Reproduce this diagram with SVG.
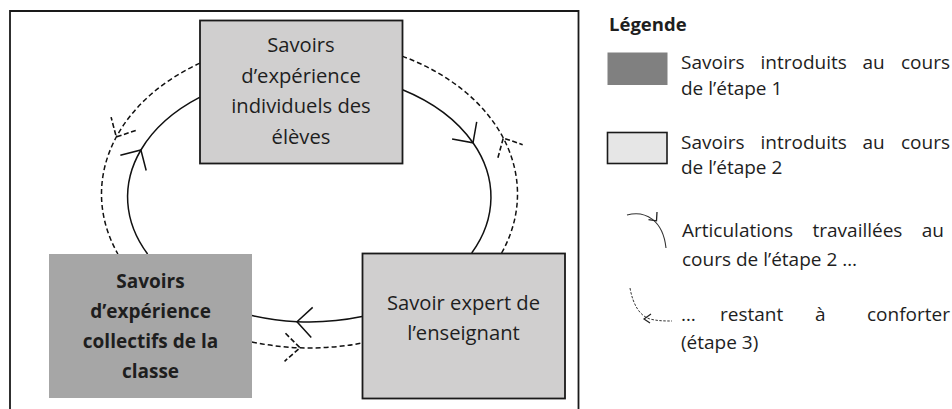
<svg xmlns="http://www.w3.org/2000/svg" width="952" height="409" viewBox="0 0 952 409">
<defs>
<style>
.t{font-family:"Open Sans","Noto Sans","Liberation Sans",sans-serif;fill:#1e1e1e;}
.d{font-size:20.2px;text-anchor:middle;}
.b{font-weight:bold;font-size:19px;}
.l{font-size:19px;}
.lb{font-size:18.5px;font-weight:bold;}
.e{text-anchor:end;}
.sol{fill:none;stroke:#111;stroke-width:1.5;}
.das{fill:none;stroke:#111;stroke-width:1.5;stroke-dasharray:5 3;}
</style>
<marker id="ah" markerUnits="userSpaceOnUse" markerWidth="40" markerHeight="40" viewBox="-20 -20 40 40" refX="0" refY="0" orient="auto">
<path d="M-15,-15 L0,0 L-15,15" fill="none" stroke="#111" stroke-width="1.5"/>
</marker>
<marker id="ahd" markerUnits="userSpaceOnUse" markerWidth="40" markerHeight="40" viewBox="-20 -20 40 40" refX="0" refY="0" orient="auto">
<path d="M-15,-14 L0,0 L-15,14" fill="none" stroke="#111" stroke-width="1.6" stroke-dasharray="5 2.5"/>
</marker>
</defs>
<rect width="952" height="409" fill="#fff"/>
<path id="frame" d="M10,409 V11 H578.5 V409" fill="none" stroke="#1a1a1a" stroke-width="1.8"/>

<g id="connectors">
<path class="sol" marker-mid="url(#ah)" d="M147.6,254 A181.7,125 0 0 1 140.9,150 A181.7,125 0 0 1 200,97.2"/>
<path class="sol" marker-mid="url(#ah)" d="M402,89.5 A181.7,125 0 0 1 473,142.8 A181.7,125 0 0 1 471.7,253"/>
<path class="sol" marker-mid="url(#ah)" d="M362,316.6 A181.7,125 0 0 1 297,321.7 A181.7,125 0 0 1 252,315.6"/>
<path class="das" marker-mid="url(#ahd)" d="M200,63.1 A208,154 0 0 0 116.3,137 A208,154 0 0 0 117.9,254"/>
<path class="das" marker-mid="url(#ahd)" d="M252,342 A208,154 0 0 0 300,347.8 A208,154 0 0 0 362,343"/>
<path class="das" marker-mid="url(#ahd)" d="M501.6,253 A208,154 0 0 0 503.3,138 A208,154 0 0 0 402,56.1"/>
</g>

<g id="node-individuels">
<rect x="200" y="20.5" width="202.5" height="143" fill="#d0cfcf" stroke="#1a1a1a" stroke-width="1.8"/>
<text class="t d" x="301" y="52">Savoirs</text>
<text class="t d" x="301" y="82.5">d’expérience</text>
<text class="t d" x="301" y="113">individuels des</text>
<text class="t d" x="301" y="143.5">élèves</text>
</g>

<g id="node-collectifs">
<rect x="49" y="254" width="203" height="144" fill="#a6a6a6"/>
<text class="t d b" x="150.5" y="287.5">Savoirs</text>
<text class="t d b" x="150.5" y="317.5">d’expérience</text>
<text class="t d b" x="150.5" y="348">collectifs de la</text>
<text class="t d b" x="150.5" y="378">classe</text>
</g>

<g id="node-expert">
<rect x="362.5" y="253.5" width="202.5" height="145" fill="#d0cfcf" stroke="#1a1a1a" stroke-width="1.8"/>
<text class="t d" x="463.5" y="310">Savoir expert de</text>
<text class="t d" x="463.5" y="340">l’enseignant</text>
</g>

<g id="legend">
<text class="t lb" x="609" y="31">Légende</text>
<rect x="607.5" y="52.5" width="60" height="32.5" fill="#808080"/>
<text class="t l" y="69"><tspan x="681">Savoirs</tspan> <tspan x="760.5">introduits</tspan> <tspan x="862.4">au</tspan> <tspan class="e" x="950">cours</tspan></text>
<text class="t l" x="681" y="95">de l’étape 1</text>
<rect x="607.5" y="132.5" width="59.5" height="31" fill="#e6e6e6" stroke="#1a1a1a" stroke-width="1.6"/>
<text class="t l" y="148.5"><tspan x="681">Savoirs</tspan> <tspan x="760.5">introduits</tspan> <tspan x="862.4">au</tspan> <tspan class="e" x="950">cours</tspan></text>
<text class="t l" x="681" y="173.5">de l’étape 2</text>
<path d="M627,215 C645,210 663,220 666,248" fill="none" stroke="#333" stroke-width="1.1"/>
<path d="M648.5,219.6 L656.5,220.8 L657,212" fill="none" stroke="#222" stroke-width="1.3"/>
<text class="t l" y="237"><tspan x="682">Articulations</tspan> <tspan x="812.5">travaillées</tspan> <tspan class="e" x="944">au</tspan></text>
<text class="t l" x="682" y="265.5">cours de l’étape 2 …</text>
<path d="M630,288 C633,305 640,316 650,319 C658,321 665,321 672,321" fill="none" stroke="#333" stroke-width="1" stroke-dasharray="2.5 1.5"/>
<path d="M651,314 L644,319 L650,323" fill="none" stroke="#222" stroke-width="1.2"/>
<text class="t l" y="320.5"><tspan x="681">…</tspan> <tspan x="720">restant</tspan> <tspan x="815">à</tspan> <tspan class="e" x="950">conforter</tspan></text>
<text class="t l" x="681" y="349">(étape 3)</text>
</g>
</svg>
